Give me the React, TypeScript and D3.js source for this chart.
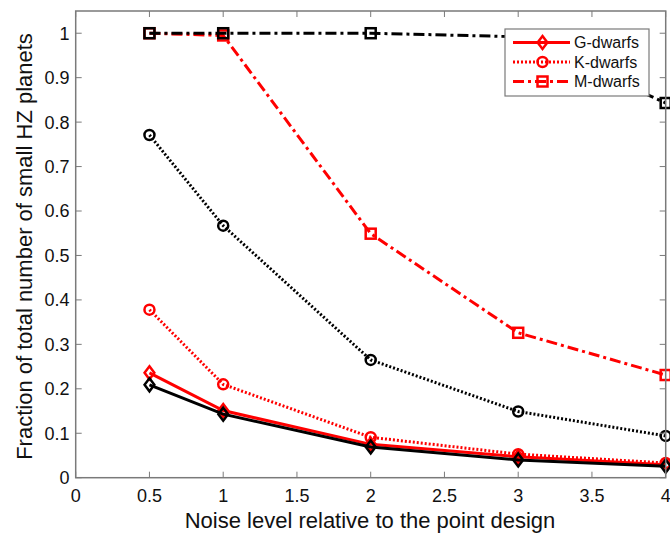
import React from "react";
import * as d3 from "d3";

const xValues = [0.5, 1, 2, 3, 4];
const redG = [0.236, 0.151, 0.075, 0.047, 0.029];
const redK = [0.378, 0.21, 0.091, 0.053, 0.033];
const redM = [1.0, 0.995, 0.549, 0.326, 0.231];
const blackG = [0.209, 0.143, 0.069, 0.04, 0.026];
const blackK = [0.771, 0.567, 0.265, 0.149, 0.094];
const blackM = [1.0, 1.0, 1.0, 0.992, 0.843];
const xTicks = [0, 0.5, 1, 1.5, 2, 2.5, 3, 3.5, 4];
const yTicks = [0, 0.1, 0.2, 0.3, 0.4, 0.5, 0.6, 0.7, 0.8, 0.9, 1];
const legendLabels = ["G-dwarfs", "K-dwarfs", "M-dwarfs"];

const W = 670, H = 533;
const L = 75.7, R = 665.7, T = 11, B = 477.7;
const FONT = "'Liberation Sans', Arial, sans-serif";
const AX = "#7a7a7a";

type Kind = "G" | "K" | "M";
const dashOf = (k: Kind) => (k === "G" ? undefined : k === "K" ? "2,2" : "11,4,3,4");

function Marker({ kind, x, y, color }: { kind: Kind; x: number; y: number; color: string }) {
  if (kind === "G") {
    const s = 6.5;
    return (
      <path d={`M${x},${y - s}L${x + s * 0.75},${y}L${x},${y + s}L${x - s * 0.75},${y}Z`} fill="none" stroke={color} strokeWidth={2.5} />
    );
  }
  if (kind === "K") {
    return <circle cx={x} cy={y} r={5} fill="none" stroke={color} strokeWidth={2.5} />;
  }
  return <rect x={x - 5} y={y - 5} width={10} height={10} fill="none" stroke={color} strokeWidth={2.5} />;
}

export default function App() {
  const xs = d3.scaleLinear().domain([0, 4]).range([L, R]);
  const ys = d3.scaleLinear().domain([0, 1.05]).range([B, T]);
  const line = d3.line<[number, number]>().x((d) => xs(d[0])).y((d) => ys(d[1]));

  const series: { vals: number[]; kind: Kind; color: string }[] = [
    { vals: redG, kind: "G", color: "#ff0000" },
    { vals: redK, kind: "K", color: "#ff0000" },
    { vals: redM, kind: "M", color: "#ff0000" },
    { vals: blackG, kind: "G", color: "#000000" },
    { vals: blackK, kind: "K", color: "#000000" },
    { vals: blackM, kind: "M", color: "#000000" },
  ];

  const lgX = 505, lgY = 29, lgW = 144, lgH = 67;
  const kinds: Kind[] = ["G", "K", "M"];

  return (
    <svg width={W} height={H} style={{ position: "absolute", left: 0, top: 0, background: "#fff" }} fontFamily={FONT}>
      <rect x={0} y={0} width={W} height={H} fill="#fff" />
      {series.map((s, i) => {
        const pts = xValues.map((x, j) => [x, s.vals[j]] as [number, number]);
        return (
          <g key={i}>
            <path d={line(pts) || ""} fill="none" stroke={s.color} strokeWidth={3} strokeDasharray={dashOf(s.kind)} />
            {pts.map((p, j) => (
              <Marker key={j} kind={s.kind} x={xs(p[0])} y={ys(p[1])} color={s.color} />
            ))}
          </g>
        );
      })}
      {/* axes box */}
      <rect x={L} y={T} width={R - L} height={B - T} fill="none" stroke={AX} strokeWidth={1.5} />
      {xTicks.map((t) => (
        <g key={"x" + t}>
          <line x1={xs(t)} x2={xs(t)} y1={B} y2={B - 6} stroke={AX} strokeWidth={1} />
          <line x1={xs(t)} x2={xs(t)} y1={T} y2={T + 6} stroke={AX} strokeWidth={1} />
          <text x={xs(t)} y={501.5} textAnchor="middle" fontSize={18} fill="#111">
            {String(t)}
          </text>
        </g>
      ))}
      {yTicks.map((t) => (
        <g key={"y" + t}>
          <line x1={L} x2={L + 6} y1={ys(t)} y2={ys(t)} stroke={AX} strokeWidth={1} />
          <line x1={R} x2={R - 6} y1={ys(t)} y2={ys(t)} stroke={AX} strokeWidth={1} />
          <text x={69.5} y={ys(t) + 6.4} textAnchor="end" fontSize={18} fill="#111">
            {String(t)}
          </text>
        </g>
      ))}
      <text x={370} y={527.5} textAnchor="middle" fontSize={22} fill="#111">
        Noise level relative to the point design
      </text>
      <text transform={`translate(32,246.5) rotate(-90)`} textAnchor="middle" fontSize={22} fill="#111">
        Fraction of total number of small HZ planets
      </text>
      {/* legend */}
      <rect x={lgX} y={lgY} width={lgW} height={lgH} fill="#fff" stroke={AX} strokeWidth={1.2} />
      {kinds.map((k, i) => {
        const yy = lgY + 13.5 + i * 19.5;
        return (
          <g key={k}>
            <line x1={lgX + 8} x2={lgX + 65} y1={yy} y2={yy} stroke="#ff0000" strokeWidth={3} strokeDasharray={dashOf(k)} />
            <Marker kind={k} x={lgX + 37.5} y={yy} color="#ff0000" />
            <text x={lgX + 69} y={yy + 5.8} textAnchor="start" fontSize={16} fill="#111">
              {legendLabels[i]}
            </text>
          </g>
        );
      })}
    </svg>
  );
}
